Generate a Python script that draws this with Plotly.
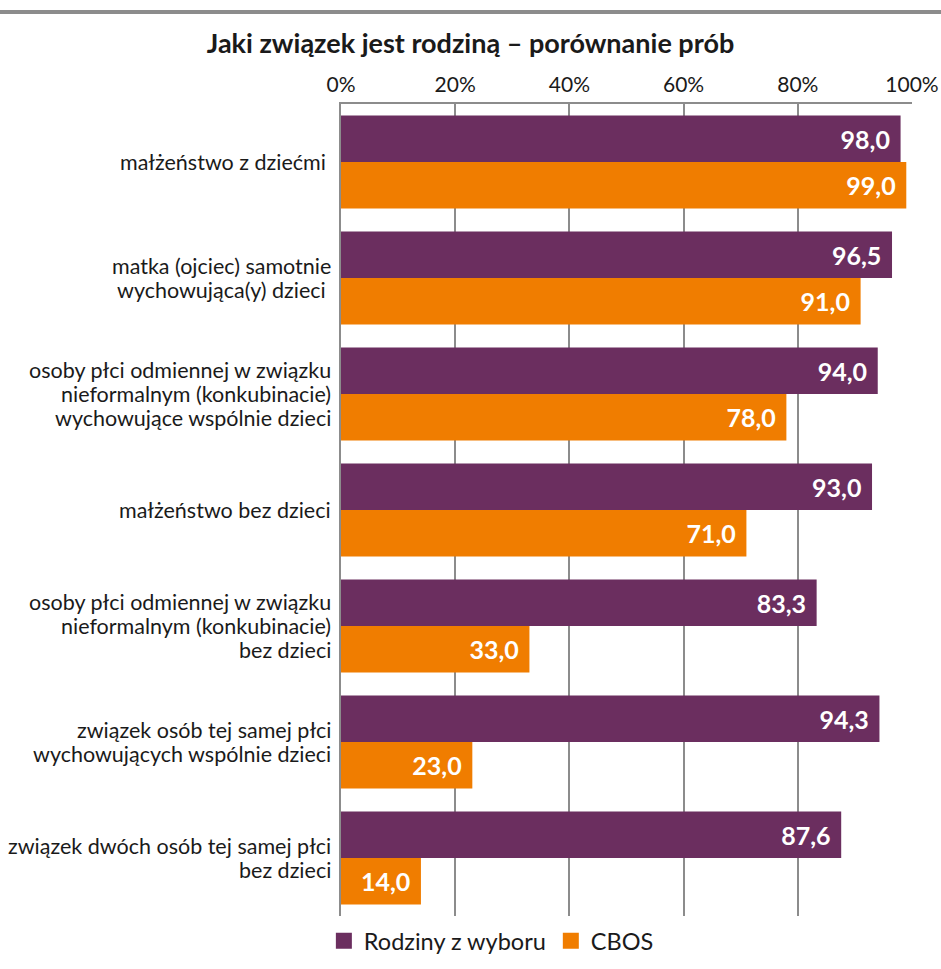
"""Grouped horizontal bars: which relationship counts as a family."""

import plotly.graph_objects as go

categories = [
    "małżeństwo z dziećmi\u00a0",
    "matka (ojciec) samotnie<br>wychowująca(y) dzieci\u00a0",
    "osoby płci odmiennej w związku<br>nieformalnym (konkubinacie)<br>wychowujące wspólnie dzieci",
    "małżeństwo bez dzieci",
    "osoby płci odmiennej w związku<br>nieformalnym (konkubinacie)<br>bez dzieci",
    "związek osób tej samej płci<br>wychowujących wspólnie dzieci",
    "związek dwóch osób tej samej płci<br>bez dzieci",
]
rodziny_z_wyboru = [98.0, 96.5, 94.0, 93.0, 83.3, 94.3, 87.6]
cbos = [99.0, 91.0, 78.0, 71.0, 33.0, 23.0, 14.0]
tick_values = [0, 20, 40, 60, 80, 100]
tick_labels = ["0%", "20%", "40%", "60%", "80%", "100%"]

PURPLE = "#6b2e5f"
ORANGE = "#f07d00"
GRID = "#8c8c8c"
TEXT = "#1a1a1a"
FONT = "Lato, 'Open Sans', sans-serif"

W, H = 941, 969
ML, MR, MT, MB = 341, 29, 104, 53
plot_h = H - MT - MB
plot_w = W - ML - MR
LINE_STEP = 24  # px between lines of a category label


def fmt(values):
    return [f"{v:.1f}".replace(".", ",") for v in values]


fig = go.Figure()
series = [
    ("Rodziny z wyboru", rodziny_z_wyboru, PURPLE),
    ("CBOS", cbos, ORANGE),
]
for name, values, color in series:
    fig.add_trace(go.Bar(
        y=categories, x=values, name=name, orientation="h",
        marker=dict(color=color, line=dict(width=0)),
        text=fmt(values), texttemplate="%{text}\u00a0\u200a",
        textposition="inside", insidetextanchor="end",
        textangle=0, constraintext="none",
        textfont=dict(family=FONT, size=25, color="white", weight="bold"),
        hoverinfo="x+name", showlegend=False,
    ))
# legend entries with bigger square swatches
for name, values, color in series:
    fig.add_trace(go.Scatter(
        x=[None], y=[None], mode="markers", name=name,
        marker=dict(symbol="square", size=16, color=color),
    ))

# category labels, one annotation per line so the line spacing stays tight
for cat in categories:
    lines = cat.split("<br>")
    n = len(lines)
    for i, line in enumerate(lines):
        fig.add_annotation(
            xref="paper", x=0, xanchor="right", xshift=-8,
            yref="y", y=cat, yanchor="middle",
            yshift=((n - 1) / 2 - i) * LINE_STEP,
            text=line, showarrow=False, align="right",
            font=dict(family=FONT, size=21.5, color=TEXT),
        )

fig.update_layout(
    width=W, height=H,
    margin=dict(l=ML, r=MR, t=MT, b=MB, autoexpand=False),
    barmode="group", bargap=0.2, bargroupgap=0,
    plot_bgcolor="white", paper_bgcolor="white",
    font=dict(family=FONT, size=21, color=TEXT),
    title=dict(
        text="<b>Jaki związek jest rodziną – porównanie prób</b>",
        x=0.5, xanchor="center", xref="container",
        y=1 - 44 / H, yanchor="middle", yref="container",
        font=dict(family=FONT, size=27, color=TEXT),
    ),
    xaxis=dict(
        side="top", range=[0, 100], automargin=False,
        tickvals=tick_values, ticktext=tick_labels,
        showgrid=True, gridcolor=GRID, gridwidth=2,
        showline=True, linecolor=GRID, linewidth=2,
        zeroline=False, ticks="", ticklabelstandoff=2,
        tickfont=dict(size=21, color=TEXT),
        fixedrange=True,
    ),
    yaxis=dict(
        autorange="reversed", showgrid=False, automargin=False,
        showline=True, linecolor=GRID, linewidth=2,
        ticks="", showticklabels=False,
        fixedrange=True,
    ),
    legend=dict(
        orientation="h", x=-0.03, xanchor="left",
        y=-3 / plot_h, yanchor="top",
        font=dict(size=23.5, color=TEXT),
        traceorder="normal",
    ),
    showlegend=True,
)

# grey rule across the top of the page
fig.add_shape(
    type="line", xref="paper", yref="paper",
    x0=-ML / plot_w, x1=1 + MR / plot_w,
    y0=1 + (MT - 12) / plot_h, y1=1 + (MT - 12) / plot_h,
    line=dict(color=GRID, width=4),
)

# drop the default page margin so the figure sits at the window's corner
fig.write_html(
    "out.html",
    config={"displayModeBar": False},
    post_script="document.body.style.margin='0';",
)
